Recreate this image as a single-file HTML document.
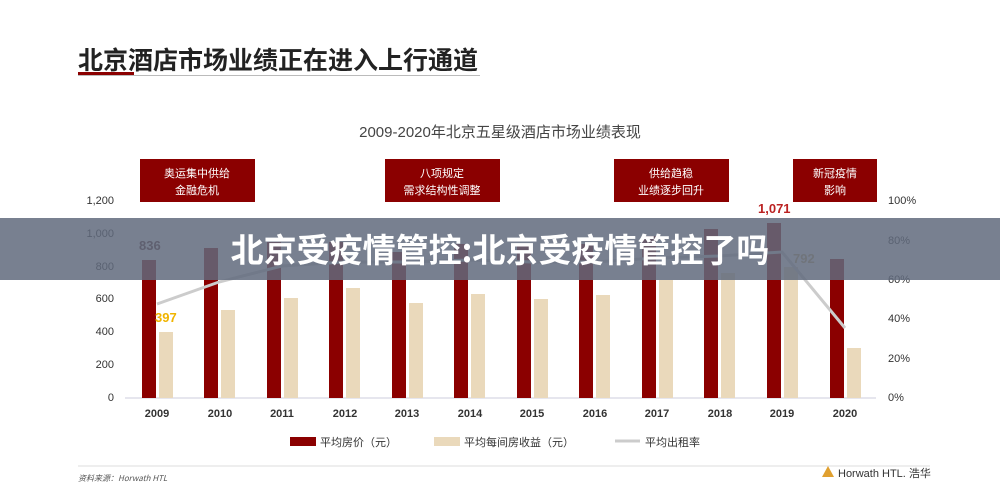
<!DOCTYPE html><html><head><meta charset="utf-8"><style>
body{margin:0;width:1000px;height:498px;background:#fff;overflow:hidden;font-family:"Liberation Sans","Noto Sans CJK SC",sans-serif;position:relative}
.t{position:absolute}
</style></head><body>
<div class="t" style="left:78px;top:44px;font-size:25px;font-weight:bold;color:#222;letter-spacing:0px;font-family:'Noto Sans CJK SC',sans-serif;line-height:30px">北京酒店市场业绩正在进入上行通道</div>
<div class="t" style="left:78px;top:72px;width:56px;height:3px;background:#8b0000"></div>
<div class="t" style="left:78px;top:75px;width:402px;height:1px;background:#bbb"></div>
<svg class="t" style="left:0;top:0" width="1000" height="498">
<text x="500" y="137" font-size="15" fill="#444" text-anchor="middle" font-family="Liberation Sans,Noto Sans CJK SC,sans-serif">2009-2020年北京五星级酒店市场业绩表现</text>
<g fill="#8b0000">
<rect x="140" y="159" width="115" height="43"/><rect x="385" y="159" width="115" height="43"/>
<rect x="614" y="159" width="115" height="43"/><rect x="793" y="159" width="84" height="43"/>
</g>
<g fill="#fff" font-size="11" text-anchor="middle" font-family="Noto Sans CJK SC,sans-serif">
<text x="197" y="177">奥运集中供给</text><text x="197" y="194">金融危机</text>
<text x="442" y="177">八项规定</text><text x="442" y="194">需求结构性调整</text>
<text x="671" y="177">供给趋稳</text><text x="671" y="194">业绩逐步回升</text>
<text x="835" y="177">新冠疫情</text><text x="835" y="194">影响</text>
</g>
<g font-size="11" fill="#333" text-anchor="end">
<text x="114" y="204">1,200</text><text x="114" y="237">1,000</text><text x="114" y="270">800</text><text x="114" y="302">600</text><text x="114" y="335">400</text><text x="114" y="368">200</text><text x="114" y="401">0</text>
</g>
<g font-size="11" fill="#333"><text x="888" y="204">100%</text><text x="888" y="244">80%</text><text x="888" y="283">60%</text><text x="888" y="322">40%</text><text x="888" y="362">20%</text><text x="888" y="401">0%</text></g>
<line x1="125" y1="398" x2="876" y2="398" stroke="#ccd" stroke-width="1"/>
<g fill="#8b0000">
<rect x="142" y="260" width="14" height="138"/><rect x="204" y="248" width="14" height="150"/>
<rect x="267" y="242" width="14" height="156"/><rect x="329" y="242" width="14" height="156"/>
<rect x="392" y="252" width="14" height="146"/><rect x="454" y="244" width="14" height="154"/>
<rect x="517" y="246" width="14" height="152"/><rect x="579" y="244" width="14" height="154"/>
<rect x="642" y="236" width="14" height="162"/><rect x="704" y="229" width="14" height="169"/>
<rect x="767" y="223" width="14" height="175"/><rect x="830" y="259" width="14" height="139"/>
</g>
<g fill="#ead9bb">
<rect x="159" y="332" width="14" height="66"/><rect x="221" y="310" width="14" height="88"/>
<rect x="284" y="298" width="14" height="100"/><rect x="346" y="288" width="14" height="110"/>
<rect x="409" y="303" width="14" height="95"/><rect x="471" y="294" width="14" height="104"/>
<rect x="534" y="299" width="14" height="99"/><rect x="596" y="295" width="14" height="103"/>
<rect x="659" y="280" width="14" height="118"/><rect x="721" y="273" width="14" height="125"/>
<rect x="784" y="267" width="14" height="131"/><rect x="847" y="348" width="14" height="50"/>
</g>
<polyline points="157,304 219,282 282,266 344,262 407,262 469,260 532,262 594,262 657,258 719,256 782,252 845,328" fill="none" stroke="#ccc" stroke-width="3"/>
<text x="139" y="250" font-size="13" font-weight="bold" fill="#5b2a2a">836</text>
<text x="155" y="322" font-size="13" font-weight="bold" fill="#f0b400">397</text>
<text x="758" y="213" font-size="13" font-weight="bold" fill="#b22">1,071</text>
<text x="793" y="263" font-size="13" font-weight="bold" fill="#c8b070">792</text>
<g font-size="11" fill="#333" text-anchor="middle" font-weight="bold">
<text x="157" y="417">2009</text><text x="220" y="417">2010</text><text x="282" y="417">2011</text><text x="345" y="417">2012</text><text x="407" y="417">2013</text><text x="470" y="417">2014</text><text x="532" y="417">2015</text><text x="595" y="417">2016</text><text x="657" y="417">2017</text><text x="720" y="417">2018</text><text x="782" y="417">2019</text><text x="845" y="417">2020</text>
</g>
<rect x="290" y="437" width="26" height="9" fill="#8b0000"/>
<rect x="434" y="437" width="26" height="9" fill="#ead9bb"/>
<line x1="615" y1="441" x2="640" y2="441" stroke="#ccc" stroke-width="3"/>
<g font-size="11" fill="#333" font-family="Noto Sans CJK SC,sans-serif"><text x="320" y="446">平均房价（元）</text><text x="464" y="446">平均每间房收益（元）</text><text x="645" y="446">平均出租率</text></g>
<line x1="78" y1="466" x2="930" y2="466" stroke="#ddd"/>
<text x="78" y="481" font-size="8" fill="#555" font-style="italic" font-family="Noto Sans CJK SC,sans-serif">资料来源：Horwath HTL</text>
<polygon points="822,477 828,466 834,477" fill="#e0a030"/>
<text x="838" y="477" font-size="11" fill="#333">Horwath HTL. 浩华</text>
<rect x="0" y="218" width="1000" height="62" fill="#606a7c" opacity="0.85"/>
<text x="500" y="262" font-size="33" font-weight="bold" fill="#fff" text-anchor="middle" font-family="Noto Sans CJK SC,sans-serif">北京受疫情管控:北京受疫情管控了吗</text>
</svg>
</body></html>
